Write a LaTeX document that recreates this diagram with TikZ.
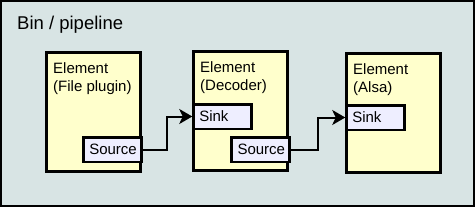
\documentclass[tikz,border=0pt]{standalone}
\usepackage{fontspec}
\setmainfont{Liberation Sans}
\usetikzlibrary{arrows.meta}
\definecolor{binbg}{RGB}{216,228,228}
\definecolor{elemfill}{RGB}{255,255,204}
\definecolor{portfill}{RGB}{238,238,255}
\tikzset{
  x=1pt, y=1pt,
  binbox/.style={draw=black, line width=2pt, fill=binbg},
  element/.style={draw=black, line width=3pt, fill=elemfill, rectangle,
    minimum width=94pt, minimum height=119pt, inner sep=0pt, outer sep=0pt, anchor=north west},
  elabel/.style={anchor=north west, inner sep=0pt, align=left,
    font=\fontsize{15}{18}\selectfont},
  port/.style={draw=black, line width=2.5pt, fill=portfill, rectangle,
    minimum height=24.5pt, text width=46pt, inner xsep=6pt, inner ysep=0pt,
    align=left, outer sep=0pt, anchor=north west,
    font=\fontsize{15}{18}\selectfont},
  conn/.style={draw=black, line width=2pt, -{Stealth[length=13pt, width=15pt, inset=3.5pt]}, shorten >=1pt},
  title/.style={anchor=base west, inner sep=0pt, font=\fontsize{18.5}{22}\selectfont}
}
\begin{document}
\begin{tikzpicture}
\useasboundingbox (0,0) rectangle (475,-207);
\draw[binbox] (1,-1) rectangle (474,-206);
\node[title] (bin) at (17,-29) {Bin / pipeline};

% Element 1
\node[element] (e1) at (46.5,-52.5) {};
\node[elabel] (e1t) at ([shift={(6.5,-10)}]e1.north west) {Element\\(File plugin)};
\node[port] (src1) at (83.25,-137.25) {Source};

% Element 2
\node[element] (e2) at (193.5,-51.5) {};
\node[elabel] (e2t) at ([shift={(6.5,-10)}]e2.north west) {Element\\(Decoder)};
\node[port] (snk2) at (193.25,-104.25) {Sink};
\node[port] (src2) at (231.5,-137.25) {Source};

% Element 3
\node[element] (e3) at (346.5,-53.5) {};
\node[elabel] (e3t) at ([shift={(6.5,-10)}]e3.north west) {Element\\(Alsa)};
\node[port] (snk3) at (346.25,-105.25) {Sink};

% Connectors
\draw[conn] (src1.east) -- ++(25.5,0) |- (snk2.west);
\draw[conn] (src2.east) -- ++(28.5,0) |- (snk3.west);
\end{tikzpicture}
\end{document}
